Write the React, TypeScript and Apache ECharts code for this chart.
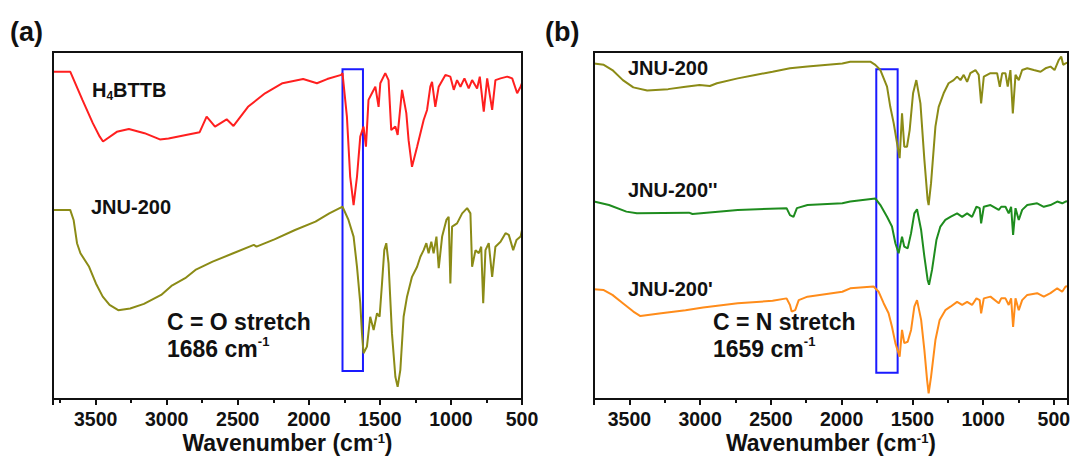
import React, { useEffect, useRef } from 'react';
import * as echarts from 'echarts';

const FONT = '"Liberation Sans", Arial, Helvetica, sans-serif';
const INK = '#111111';

// ---------- axis settings ----------
const tickLabels = [500, 1000, 1500, 2000, 2500, 3000, 3500];
const rangeA = [500, 3800];
const rangeB = [400, 3750];
const yRange = [0, 100];

// ---------- panel (a) ----------
const h4bttbWave = [3800, 3678, 3593, 3520, 3471, 3448, 3351, 3266, 3156, 3048, 2987, 2865, 2768, 2719, 2660, 2578, 2530, 2428, 2308, 2185, 2040, 1943, 1871, 1772, 1763, 1732, 1709, 1685, 1661, 1638, 1615, 1598, 1580, 1556, 1532, 1509, 1497, 1462, 1439, 1420, 1391, 1375, 1344, 1314, 1298, 1274, 1238, 1192, 1168, 1145, 1133, 1110, 1086, 1039, 1004, 980, 957, 933, 905, 875, 851, 816, 797, 769, 745, 710, 687, 651, 604, 569, 534, 510, 500];
const h4bttbT = [94.3, 94.3, 86.2, 79.5, 75.6, 74.2, 77.0, 77.8, 76.6, 74.8, 75.1, 76.1, 76.9, 81.4, 78.5, 80.6, 78.7, 84.2, 88.1, 91.0, 92.2, 91.0, 92.2, 93.4, 93.9, 81.4, 64.1, 55.9, 64.1, 75.6, 78.5, 72.7, 86.2, 88.1, 90.0, 84.2, 91.0, 93.9, 91.9, 77.5, 78.5, 76.1, 89.1, 82.4, 74.6, 66.9, 72.7, 80.4, 83.3, 90.0, 91.4, 84.2, 90.0, 93.4, 92.9, 89.1, 91.9, 90.0, 92.4, 89.5, 91.9, 89.5, 92.9, 82.8, 92.4, 83.3, 91.9, 92.4, 92.9, 92.4, 88.1, 90.0, 91.0];

const jnuAWave = [3800, 3679, 3655, 3631, 3607, 3546, 3498, 3450, 3402, 3341, 3257, 3160, 3039, 2967, 2870, 2798, 2677, 2532, 2387, 2368, 2242, 2097, 1953, 1856, 1783, 1763, 1721, 1685, 1661, 1638, 1626, 1615, 1591, 1568, 1544, 1520, 1502, 1485, 1469, 1455, 1439, 1415, 1391, 1375, 1356, 1333, 1309, 1274, 1238, 1215, 1192, 1173, 1157, 1138, 1122, 1102, 1086, 1062, 1032, 1016, 1004, 992, 957, 921, 886, 863, 851, 827, 804, 787, 773, 757, 734, 710, 687, 651, 616, 593, 562, 539, 510, 500];
const jnuAT = [54.5, 54.5, 51.6, 44.9, 42.0, 38.1, 33.3, 29.5, 27.1, 25.6, 26.1, 27.4, 30.0, 32.6, 34.8, 37.2, 39.6, 42.0, 44.4, 43.9, 46.0, 48.7, 51.1, 53.5, 55.0, 55.4, 51.6, 46.8, 38.1, 27.6, 18.9, 13.2, 15.1, 23.7, 19.9, 24.7, 23.7, 33.3, 42.9, 44.9, 39.1, 18.9, 6.4, 3.5, 8.4, 23.7, 29.5, 35.2, 38.1, 41.0, 42.9, 44.9, 42.0, 45.3, 42.0, 46.8, 37.7, 46.8, 51.6, 52.5, 33.3, 49.7, 50.6, 53.5, 55.0, 53.5, 38.1, 42.9, 42.0, 43.9, 27.6, 42.9, 44.9, 35.2, 43.9, 45.3, 47.8, 47.3, 42.9, 45.8, 46.8, 48.7];

// ---------- panel (b) ----------
const jnuBWave = [3750, 3681, 3620, 3546, 3472, 3374, 3226, 3103, 3004, 2931, 2881, 2734, 2611, 2488, 2365, 2241, 1995, 1939, 1797, 1762, 1726, 1679, 1656, 1632, 1608, 1590, 1573, 1557, 1538, 1519, 1495, 1472, 1443, 1415, 1392, 1385, 1368, 1337, 1314, 1279, 1244, 1208, 1184, 1160, 1137, 1113, 1090, 1054, 1031, 1014, 995, 948, 901, 882, 865, 842, 826, 807, 790, 771, 748, 724, 688, 642, 594, 559, 524, 495, 465, 448, 434, 417, 400];
const jnuBT = [96.7, 96.3, 94.8, 91.9, 89.8, 88.9, 89.3, 90.0, 90.5, 90.2, 91.0, 92.4, 93.4, 94.3, 95.3, 95.8, 96.7, 97.2, 97.2, 96.3, 94.8, 90.0, 84.2, 79.5, 73.7, 69.4, 82.3, 72.7, 72.7, 77.5, 88.1, 91.9, 85.2, 68.9, 57.4, 55.9, 62.2, 78.5, 84.2, 88.1, 91.0, 91.9, 92.9, 91.9, 93.4, 91.4, 93.9, 94.8, 93.4, 85.2, 92.9, 93.9, 93.9, 90.0, 93.9, 93.9, 90.0, 94.8, 82.3, 93.4, 91.9, 94.8, 95.3, 94.8, 94.3, 95.3, 95.8, 94.8, 97.7, 98.7, 96.3, 96.7, 97.0];

const jnu2Wave = [3750, 3644, 3521, 3447, 3079, 3054, 2734, 2389, 2365, 2340, 2316, 2241, 1995, 1939, 1762, 1726, 1679, 1644, 1620, 1597, 1573, 1557, 1533, 1509, 1486, 1467, 1438, 1415, 1392, 1382, 1361, 1330, 1302, 1267, 1231, 1184, 1148, 1113, 1078, 1047, 1024, 1014, 995, 948, 889, 872, 842, 819, 802, 788, 771, 748, 724, 688, 618, 571, 524, 476, 441, 417, 400];
const jnu2T = [56.9, 55.9, 54.0, 53.5, 53.7, 53.3, 54.5, 55.0, 53.0, 52.5, 55.0, 55.9, 56.4, 56.9, 57.8, 55.9, 52.5, 49.7, 44.9, 42.0, 46.8, 43.9, 43.4, 47.8, 53.5, 54.7, 48.7, 41.0, 34.3, 32.9, 37.2, 45.8, 49.7, 51.6, 52.5, 53.5, 52.5, 53.5, 52.5, 55.4, 55.0, 50.6, 55.4, 55.9, 54.5, 55.4, 55.4, 53.5, 55.4, 47.3, 55.0, 51.6, 54.5, 55.9, 56.4, 55.4, 55.9, 56.9, 56.4, 56.9, 57.0];

const jnu1Wave = [3750, 3681, 3620, 3546, 3472, 3422, 3275, 3103, 2979, 2734, 2488, 2389, 2365, 2353, 2328, 2303, 2241, 1995, 1939, 1774, 1738, 1703, 1668, 1644, 1620, 1590, 1573, 1557, 1533, 1509, 1486, 1467, 1438, 1415, 1396, 1385, 1368, 1337, 1307, 1267, 1231, 1184, 1148, 1113, 1078, 1047, 1024, 1014, 995, 948, 889, 872, 842, 819, 802, 788, 771, 748, 724, 688, 618, 571, 524, 476, 441, 417, 400];
const jnu1T = [31.6, 31.4, 30.0, 27.6, 25.2, 23.9, 24.7, 25.6, 26.4, 27.6, 28.3, 29.0, 27.1, 25.2, 25.6, 28.5, 29.5, 30.9, 31.9, 32.4, 30.9, 27.6, 24.7, 20.8, 16.1, 12.2, 19.9, 16.1, 16.5, 19.9, 26.6, 28.5, 22.8, 14.1, 5.5, 1.6, 6.4, 17.0, 22.8, 25.6, 26.6, 28.0, 27.1, 28.0, 27.1, 29.0, 28.5, 24.7, 29.0, 29.5, 27.6, 29.0, 29.0, 27.1, 29.0, 20.8, 29.0, 25.6, 28.5, 30.0, 30.5, 29.5, 30.5, 31.9, 30.9, 32.4, 32.5];

// highlighted stretch regions: [wave from, wave to, top, bottom]
const boxA = [1763, 1619, 95.0, 8.1];
const boxB = [1755, 1604, 95.0, 7.6];

const zip = (w: number[], t: number[]) => w.map((x, i) => [x, t[i]]);

const richMain = (size: number, lh: number) => ({ fontSize: size, fontWeight: 'bold', fontFamily: FONT, color: INK, lineHeight: lh });

// plot frames (layout, px)
const GRID_A = { left: 53, top: 52, width: 469, height: 347 };
const GRID_B = { left: 594, top: 52, width: 474, height: 347 };

function majorAxis(gridIndex: number, range: number[]) {
  return {
    type: 'value', gridIndex, min: range[0], max: range[1], inverse: true, position: 'bottom',
    minInterval: 500, maxInterval: 500, splitNumber: 7,
    axisLine: { show: true, onZero: false, lineStyle: { color: INK, width: 2 } },
    axisTick: { show: true, length: 6, lineStyle: { color: INK, width: 2 } },
    axisLabel: {
      show: true, margin: 10, fontSize: 19.5, lineHeight: 20, fontWeight: 'bold', color: INK, fontFamily: FONT,
      formatter: (v: number) => (tickLabels.includes(v) ? String(v) : ''),
    },
    splitLine: { show: false },
    name: '{a|Wavenumber (cm}{s|-1}{a|)}', nameLocation: 'middle', nameGap: 33, nameMoveOverlap: false,
    nameTextStyle: {
      rich: {
        a: richMain(23, 22),
        s: { fontSize: 13, fontWeight: 'bold', fontFamily: FONT, color: INK, verticalAlign: 'top', lineHeight: 16 },
      },
    },
  };
}

function minorAxis(gridIndex: number, range: number[]) {
  return {
    type: 'value', gridIndex, min: range[0], max: range[1], inverse: true, position: 'bottom',
    minInterval: 250, maxInterval: 250, splitNumber: 14,
    axisLine: { show: false, onZero: false },
    axisTick: { show: true, length: 4, lineStyle: { color: INK, width: 2 } },
    axisLabel: { show: false },
    splitLine: { show: false },
  };
}

function line(data: number[][], color: string, xAxisIndex: number, yAxisIndex: number) {
  return {
    type: 'line', xAxisIndex, yAxisIndex, data, symbol: 'none', showSymbol: false, smooth: false,
    lineStyle: { color, width: 2 }, itemStyle: { color }, z: 3, silent: true,
  };
}

function boxSeries(box: number[], xAxisIndex: number, yAxisIndex: number) {
  return {
    type: 'line', xAxisIndex, yAxisIndex, data: [], symbol: 'none', z: 10, silent: true,
    markArea: {
      silent: true,
      itemStyle: { color: 'rgba(0,0,0,0)', borderColor: '#1a1aff', borderWidth: 2 },
      data: [[{ coord: [box[0], box[2]] }, { coord: [box[1], box[3]] }]],
    },
  };
}

function label(x: number, y: number, text: string, rich?: any, size = 20) {
  return {
    type: 'text', x, y, z: 20, silent: true,
    style: {
      text, fill: INK, fontSize: size, fontWeight: 'bold', fontFamily: FONT,
      verticalAlign: 'middle', align: 'left', rich,
    },
  };
}

function frame(g: { left: number; top: number; width: number; height: number }) {
  return {
    type: 'rect', z: 30, silent: true,
    shape: { x: g.left, y: g.top, width: g.width, height: g.height },
    style: { fill: 'rgba(0,0,0,0)', stroke: INK, lineWidth: 2 },
  };
}

const subRich = {
  n: richMain(20, 24),
  s: { fontSize: 12, fontWeight: 'bold', fontFamily: FONT, color: INK, verticalAlign: 'bottom', lineHeight: 12 },
};
const supRich = {
  n: richMain(23, 28),
  s: { fontSize: 13, fontWeight: 'bold', fontFamily: FONT, color: INK, verticalAlign: 'top', lineHeight: 20 },
};

const option: any = {
  animation: false,
  backgroundColor: '#ffffff',
  textStyle: { fontFamily: FONT },
  grid: [
    { ...GRID_A, show: false, containLabel: false, outerBoundsMode: 'none' },
    { ...GRID_B, show: false, containLabel: false, outerBoundsMode: 'none' },
  ],
  xAxis: [majorAxis(0, rangeA), minorAxis(0, rangeA), majorAxis(1, rangeB), minorAxis(1, rangeB)],
  yAxis: [
    { type: 'value', gridIndex: 0, min: yRange[0], max: yRange[1], show: false },
    { type: 'value', gridIndex: 1, min: yRange[0], max: yRange[1], show: false },
  ],
  series: [
    line(zip(h4bttbWave, h4bttbT), '#ff1f1f', 0, 0),
    line(zip(jnuAWave, jnuAT), '#8b8b16', 0, 0),
    line(zip(jnuBWave, jnuBT), '#8b8b16', 2, 1),
    line(zip(jnu2Wave, jnu2T), '#1e8c1e', 2, 1),
    line(zip(jnu1Wave, jnu1T), '#ff8c1a', 2, 1),
    boxSeries(boxA, 0, 0),
    boxSeries(boxB, 2, 1),
  ],
  graphic: [
    frame(GRID_A),
    frame(GRID_B),
    label(10, 31.5, '(a)', undefined, 27),
    label(545, 31.5, '(b)', undefined, 27),
    label(92, 90, '{n|H}{s|4}{n|BTTB}', subRich),
    label(91, 207, 'JNU-200'),
    label(167, 322, '{n|C = O stretch}', supRich),
    label(167, 349, '{n|1686 cm}{s|-1}', supRich),
    label(628, 68, 'JNU-200'),
    label(628, 190, "JNU-200''"),
    label(628, 289, "JNU-200'"),
    label(713, 322, '{n|C = N stretch}', supRich),
    label(713, 349, '{n|1659 cm}{s|-1}', supRich),
  ],
};

export default function App() {
  const ref = useRef<HTMLDivElement>(null);
  useEffect(() => {
    const chart = echarts.init(ref.current as HTMLDivElement, undefined, { renderer: 'svg' });
    chart.setOption(option);
    return () => chart.dispose();
  }, []);
  return (
    <div
      ref={ref}
      style={{ position: 'absolute', left: 0, top: 0, width: 1072, height: 456, background: '#ffffff' }}
    />
  );
}
